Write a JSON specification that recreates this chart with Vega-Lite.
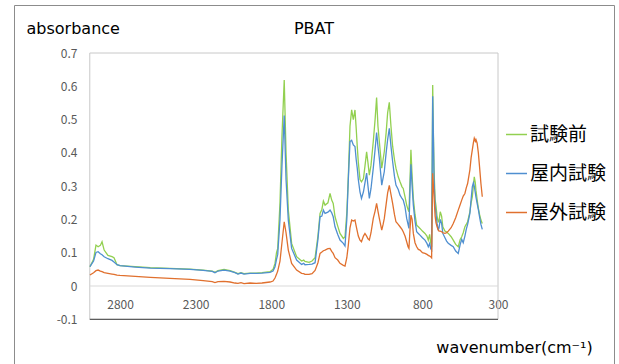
{
  "$schema": "https://vega.github.io/schema/vega-lite/v6.json",
  "width": 600,
  "height": 362,
  "autosize": {"type": "none"},
  "padding": {"left": 14, "top": 5, "right": 5, "bottom": 0},
  "background": "white",
  "title": {"text": "PBAT", "anchor": "middle", "offset": -23.5, "dy": 16.5, "baseline": "middle", "font": "DejaVu Sans", "fontSize": 16, "fontWeight": "normal", "color": "#000000"},
  "config": {"view": {"stroke": "#8c8c8c", "strokeWidth": 1}},
  "layer": [
    {
      "data": {"values": [{}]},
      "mark": {"type": "rect", "fill": null, "stroke": "#c8c8c8", "strokeWidth": 1},
      "encoding": {
        "x": {"datum": 3000, "type": "quantitative"},
        "x2": {"datum": 300},
        "y": {"datum": 0.7, "type": "quantitative"},
        "y2": {"datum": -0.1}
      }
    },
    {
      "data": {"values": [{}]},
      "mark": {"type": "rule", "stroke": "#d9d9d9", "strokeWidth": 1},
      "encoding": {
        "x": {"datum": 3000, "type": "quantitative"},
        "x2": {"datum": 300},
        "y": {"datum": 0, "type": "quantitative"}
      }
    },
    {
      "data": {"values": [{}]},
      "mark": {"type": "rule", "stroke": "#404040", "strokeWidth": 1},
      "encoding": {
        "x": {"datum": 3000, "type": "quantitative"},
        "x2": {"datum": 300},
        "y": {"datum": -0.1, "type": "quantitative"}
      }
    },
    {
      "data": {"values": [
        {"w": 2999, "試験前": 0.058, "屋内試験": 0.058, "屋外試験": 0.033},
        {"w": 2975, "試験前": 0.080, "屋内試験": 0.075, "屋外試験": 0.040},
        {"w": 2959, "試験前": 0.123, "屋内試験": 0.101, "屋外試験": 0.046},
        {"w": 2945, "試験前": 0.118, "屋内試験": 0.103, "屋外試験": 0.048},
        {"w": 2930, "試験前": 0.122, "屋内試験": 0.097, "屋外試験": 0.045},
        {"w": 2919, "試験前": 0.133, "屋内試験": 0.094, "屋外試験": 0.043},
        {"w": 2905, "試験前": 0.108, "屋内試験": 0.088, "屋外試験": 0.040},
        {"w": 2880, "試験前": 0.092, "屋内試験": 0.082, "屋外試験": 0.038},
        {"w": 2853, "試験前": 0.088, "屋内試験": 0.077, "屋外試験": 0.036},
        {"w": 2840, "試験前": 0.085, "屋内試験": 0.072, "屋外試験": 0.035},
        {"w": 2820, "試験前": 0.064, "屋内試験": 0.064, "屋外試験": 0.033},
        {"w": 2800, "試験前": 0.061, "屋内試験": 0.061, "屋外試験": 0.032},
        {"w": 2700, "試験前": 0.058, "屋内試験": 0.057, "屋外試験": 0.029},
        {"w": 2600, "試験前": 0.055, "屋内試験": 0.054, "屋外試験": 0.026},
        {"w": 2470, "試験前": 0.053, "屋内試験": 0.052, "屋外試験": 0.023},
        {"w": 2337, "試験前": 0.051, "屋内試験": 0.050, "屋外試験": 0.020},
        {"w": 2250, "試験前": 0.048, "屋内試験": 0.047, "屋外試験": 0.016},
        {"w": 2190, "試験前": 0.045, "屋内試験": 0.044, "屋外試験": 0.013},
        {"w": 2172, "試験前": 0.041, "屋内試験": 0.040, "屋外試験": 0.010},
        {"w": 2152, "試験前": 0.046, "屋内試験": 0.045, "屋外試験": 0.013},
        {"w": 2112, "試験前": 0.050, "屋内試験": 0.048, "屋外試験": 0.014},
        {"w": 2072, "試験前": 0.046, "屋内試験": 0.045, "屋外試験": 0.012},
        {"w": 2040, "試験前": 0.041, "屋内試験": 0.040, "屋外試験": 0.009},
        {"w": 2020, "試験前": 0.037, "屋内試験": 0.036, "屋外試験": 0.008},
        {"w": 2000, "試験前": 0.040, "屋内試験": 0.039, "屋外試験": 0.010},
        {"w": 1980, "試験前": 0.037, "屋内試験": 0.036, "屋外試験": 0.007},
        {"w": 1940, "試験前": 0.039, "屋内試験": 0.038, "屋外試験": 0.009},
        {"w": 1900, "試験前": 0.039, "屋内試験": 0.038, "屋外試験": 0.008},
        {"w": 1861, "試験前": 0.040, "屋内試験": 0.039, "屋外試験": 0.009},
        {"w": 1808, "試験前": 0.043, "屋内試験": 0.041, "屋外試験": 0.012},
        {"w": 1788, "試験前": 0.050, "屋内試験": 0.045, "屋外試験": 0.015},
        {"w": 1775, "試験前": 0.068, "屋内試験": 0.058, "屋外試験": 0.024},
        {"w": 1765, "試験前": 0.100, "屋内試験": 0.080, "屋外試験": 0.035},
        {"w": 1757, "試験前": 0.113, "屋内試験": 0.095, "屋外試験": 0.045},
        {"w": 1742, "試験前": 0.250, "屋内試験": 0.200, "屋外試験": 0.075},
        {"w": 1729, "試験前": 0.450, "屋内試験": 0.360, "屋外試験": 0.130},
        {"w": 1714, "試験前": 0.619, "屋内試験": 0.512, "屋外試験": 0.193},
        {"w": 1702, "試験前": 0.400, "屋内試験": 0.320, "屋外試験": 0.160},
        {"w": 1687, "試験前": 0.228, "屋内試験": 0.198, "屋外試験": 0.108},
        {"w": 1665, "試験前": 0.128, "屋内試験": 0.113, "屋外試験": 0.068},
        {"w": 1632, "試験前": 0.088, "屋内試験": 0.078, "屋外試験": 0.048},
        {"w": 1599, "試験前": 0.075, "屋内試験": 0.065, "屋外試験": 0.038},
        {"w": 1585, "試験前": 0.078, "屋内試験": 0.068, "屋外試験": 0.037},
        {"w": 1577, "試験前": 0.074, "屋内試験": 0.064, "屋外試験": 0.035},
        {"w": 1550, "試験前": 0.071, "屋内試験": 0.065, "屋外試験": 0.035},
        {"w": 1530, "試験前": 0.075, "屋内試験": 0.066, "屋外試験": 0.037},
        {"w": 1510, "試験前": 0.085, "屋内試験": 0.070, "屋外試験": 0.047},
        {"w": 1491, "試験前": 0.150, "屋内試験": 0.140, "屋外試験": 0.070},
        {"w": 1477, "試験前": 0.218, "屋内試験": 0.208, "屋外試験": 0.098},
        {"w": 1465, "試験前": 0.230, "屋内試験": 0.210, "屋外試験": 0.102},
        {"w": 1455, "試験前": 0.255, "屋内試験": 0.228, "屋外試験": 0.106},
        {"w": 1444, "試験前": 0.243, "屋内試験": 0.218, "屋外試験": 0.108},
        {"w": 1425, "試験前": 0.250, "屋内試験": 0.222, "屋外試験": 0.112},
        {"w": 1411, "試験前": 0.278, "屋内試験": 0.228, "屋外試験": 0.113},
        {"w": 1400, "試験前": 0.258, "屋内試験": 0.220, "屋外試験": 0.104},
        {"w": 1390, "試験前": 0.248, "屋内試験": 0.208, "屋外試験": 0.098},
        {"w": 1378, "試験前": 0.208, "屋内試験": 0.178, "屋外試験": 0.085},
        {"w": 1360, "試験前": 0.180, "屋内試験": 0.155, "屋外試験": 0.078},
        {"w": 1345, "試験前": 0.158, "屋内試験": 0.138, "屋外試験": 0.068},
        {"w": 1323, "試験前": 0.143, "屋内試験": 0.128, "屋外試験": 0.062},
        {"w": 1312, "試験前": 0.148, "屋内試験": 0.120, "屋外試験": 0.060},
        {"w": 1300, "試験前": 0.220, "屋内試験": 0.200, "屋外試験": 0.085},
        {"w": 1290, "試験前": 0.330, "屋内試験": 0.320, "屋外試験": 0.123},
        {"w": 1279, "試験前": 0.480, "屋内試験": 0.434, "屋外試験": 0.175},
        {"w": 1268, "試験前": 0.529, "屋内試験": 0.438, "屋外試験": 0.198},
        {"w": 1257, "試験前": 0.500, "屋内試験": 0.424, "屋外試験": 0.195},
        {"w": 1246, "試験前": 0.529, "屋内試験": 0.419, "屋外試験": 0.198},
        {"w": 1238, "試験前": 0.474, "屋内試験": 0.380, "屋外試験": 0.180},
        {"w": 1231, "試験前": 0.420, "屋内試験": 0.354, "屋外試験": 0.165},
        {"w": 1224, "試験前": 0.373, "屋内試験": 0.320, "屋外試験": 0.150},
        {"w": 1213, "試験前": 0.320, "屋内試験": 0.283, "屋外試験": 0.138},
        {"w": 1203, "試験前": 0.313, "屋内試験": 0.263, "屋外試験": 0.133},
        {"w": 1190, "試験前": 0.323, "屋内試験": 0.283, "屋外試験": 0.150},
        {"w": 1180, "試験前": 0.360, "屋内試験": 0.310, "屋外試験": 0.158},
        {"w": 1169, "試験前": 0.403, "屋内試験": 0.339, "屋外試験": 0.150},
        {"w": 1160, "試験前": 0.370, "屋内試験": 0.300, "屋外試験": 0.142},
        {"w": 1151, "試験前": 0.333, "屋内試験": 0.263, "屋外試験": 0.138},
        {"w": 1140, "試験前": 0.363, "屋内試験": 0.293, "屋外試験": 0.160},
        {"w": 1125, "試験前": 0.434, "屋内試験": 0.354, "屋外試験": 0.203},
        {"w": 1113, "試験前": 0.500, "屋内試験": 0.410, "屋外試験": 0.225},
        {"w": 1103, "試験前": 0.566, "屋内試験": 0.461, "屋外試験": 0.248},
        {"w": 1094, "試験前": 0.480, "屋内試験": 0.420, "屋外試験": 0.225},
        {"w": 1085, "試験前": 0.434, "屋内試験": 0.384, "屋外試験": 0.203},
        {"w": 1069, "試験前": 0.354, "屋内試験": 0.303, "屋外試験": 0.168},
        {"w": 1060, "試験前": 0.380, "屋内試験": 0.325, "屋外試験": 0.185},
        {"w": 1052, "試験前": 0.404, "屋内試験": 0.344, "屋外試験": 0.203},
        {"w": 1040, "試験前": 0.460, "屋内試験": 0.400, "屋外試験": 0.245},
        {"w": 1030, "試験前": 0.520, "屋内試験": 0.440, "屋外試験": 0.280},
        {"w": 1019, "試験前": 0.552, "屋内試験": 0.474, "屋外試験": 0.302},
        {"w": 1008, "試験前": 0.480, "屋内試験": 0.420, "屋外試験": 0.275},
        {"w": 997, "試験前": 0.420, "屋内試験": 0.374, "屋外試験": 0.248},
        {"w": 985, "試験前": 0.380, "屋内試験": 0.330, "屋外試験": 0.215},
        {"w": 975, "試験前": 0.354, "屋内試験": 0.303, "屋外試験": 0.193},
        {"w": 960, "試験前": 0.328, "屋内試験": 0.290, "屋外試験": 0.185},
        {"w": 948, "試験前": 0.313, "屋内試験": 0.273, "屋外試験": 0.178},
        {"w": 935, "試験前": 0.298, "屋内試験": 0.263, "屋外試験": 0.170},
        {"w": 927, "試験前": 0.293, "屋内試験": 0.258, "屋外試験": 0.163},
        {"w": 915, "試験前": 0.268, "屋内試験": 0.238, "屋外試験": 0.150},
        {"w": 904, "試験前": 0.243, "屋内試験": 0.203, "屋外試験": 0.133},
        {"w": 895, "試験前": 0.230, "屋内試験": 0.185, "屋外試験": 0.118},
        {"w": 889, "試験前": 0.223, "屋内試験": 0.173, "屋外試験": 0.113},
        {"w": 882, "試験前": 0.320, "屋内試験": 0.290, "屋外試験": 0.170},
        {"w": 876, "試験前": 0.409, "屋内試験": 0.366, "屋外試験": 0.213},
        {"w": 868, "試験前": 0.330, "屋内試験": 0.300, "屋外試験": 0.200},
        {"w": 860, "試験前": 0.263, "屋内試験": 0.243, "屋外試験": 0.158},
        {"w": 849, "試験前": 0.215, "屋内試験": 0.195, "屋外試験": 0.130},
        {"w": 838, "試験前": 0.183, "屋内試験": 0.163, "屋外試験": 0.118},
        {"w": 827, "試験前": 0.178, "屋内試験": 0.158, "屋外試験": 0.110},
        {"w": 816, "試験前": 0.173, "屋内試験": 0.153, "屋外試験": 0.108},
        {"w": 800, "試験前": 0.165, "屋内試験": 0.145, "屋外試験": 0.100},
        {"w": 783, "試験前": 0.158, "屋内試験": 0.138, "屋外試験": 0.098},
        {"w": 770, "試験前": 0.150, "屋内試験": 0.128, "屋外試験": 0.095},
        {"w": 761, "試験前": 0.138, "屋内試験": 0.118, "屋外試験": 0.092},
        {"w": 752, "試験前": 0.155, "屋内試験": 0.128, "屋外試験": 0.090},
        {"w": 745, "試験前": 0.130, "屋内試験": 0.112, "屋外試験": 0.088},
        {"w": 739, "試験前": 0.118, "屋内試験": 0.108, "屋外試験": 0.085},
        {"w": 732, "試験前": 0.604, "屋内試験": 0.570, "屋外試験": 0.339},
        {"w": 727, "試験前": 0.450, "屋内試験": 0.440, "屋外試験": 0.300},
        {"w": 723, "試験前": 0.349, "屋内試験": 0.318, "屋外試験": 0.268},
        {"w": 716, "試験前": 0.260, "屋内試験": 0.240, "屋外試験": 0.210},
        {"w": 710, "試験前": 0.240, "屋内試験": 0.215, "屋外試験": 0.190},
        {"w": 703, "試験前": 0.208, "屋内試験": 0.188, "屋外試験": 0.178},
        {"w": 695, "試験前": 0.193, "屋内試験": 0.168, "屋外試験": 0.168},
        {"w": 690, "試験前": 0.195, "屋内試験": 0.175, "屋外試験": 0.165},
        {"w": 682, "試験前": 0.223, "屋内試験": 0.200, "屋外試験": 0.165},
        {"w": 673, "試験前": 0.210, "屋内試験": 0.188, "屋外試験": 0.163},
        {"w": 665, "試験前": 0.178, "屋内試験": 0.158, "屋外試験": 0.160},
        {"w": 651, "試験前": 0.165, "屋内試験": 0.145, "屋外試験": 0.158},
        {"w": 640, "試験前": 0.162, "屋内試験": 0.135, "屋外試験": 0.160},
        {"w": 629, "試験前": 0.158, "屋内試験": 0.128, "屋外試験": 0.165},
        {"w": 610, "試験前": 0.148, "屋内試験": 0.122, "屋外試験": 0.175},
        {"w": 596, "試験前": 0.138, "屋内試験": 0.118, "屋外試験": 0.188},
        {"w": 580, "試験前": 0.125, "屋内試験": 0.105, "屋外試験": 0.205},
        {"w": 563, "試験前": 0.118, "屋内試験": 0.098, "屋外試験": 0.228},
        {"w": 550, "試験前": 0.140, "屋内試験": 0.125, "屋外試験": 0.245},
        {"w": 540, "試験前": 0.148, "屋内試験": 0.140, "屋外試験": 0.258},
        {"w": 530, "試験前": 0.160, "屋内試験": 0.130, "屋外試験": 0.270},
        {"w": 519, "試験前": 0.178, "屋内試験": 0.150, "屋外試験": 0.278},
        {"w": 510, "試験前": 0.185, "屋内試験": 0.170, "屋外試験": 0.295},
        {"w": 501, "試験前": 0.193, "屋内試験": 0.185, "屋外試験": 0.308},
        {"w": 486, "試験前": 0.223, "屋内試験": 0.218, "屋外試験": 0.349},
        {"w": 478, "試験前": 0.250, "屋内試験": 0.260, "屋外試験": 0.385},
        {"w": 470, "試験前": 0.268, "屋内試験": 0.298, "屋外試験": 0.409},
        {"w": 463, "試験前": 0.300, "屋内試験": 0.310, "屋外試験": 0.430},
        {"w": 457, "試験前": 0.328, "屋内試験": 0.300, "屋外試験": 0.444},
        {"w": 450, "試験前": 0.310, "屋内試験": 0.280, "屋外試験": 0.435},
        {"w": 446, "試験前": 0.288, "屋内試験": 0.268, "屋外試験": 0.440},
        {"w": 438, "試験前": 0.260, "屋内試験": 0.248, "屋外試験": 0.429},
        {"w": 430, "試験前": 0.233, "屋内試験": 0.230, "屋外試験": 0.400},
        {"w": 422, "試験前": 0.215, "屋内試験": 0.208, "屋外試験": 0.358},
        {"w": 413, "試験前": 0.198, "屋内試験": 0.185, "屋外試験": 0.308},
        {"w": 404, "試験前": 0.188, "屋内試験": 0.170, "屋外試験": 0.268}
      ]},
      "transform": [{"fold": ["試験前", "屋内試験", "屋外試験"], "as": ["series", "a"]}],
      "mark": {"type": "line", "strokeWidth": 1.3, "interpolate": "linear"},
      "encoding": {
        "x": {
          "field": "w", "type": "quantitative",
          "scale": {"domain": [-467.2, 3501.3], "reverse": true, "nice": false, "zero": false},
          "axis": {
            "title": "wavenumber(cm⁻¹)",
            "values": [2800, 2300, 1800, 1300, 800, 300],
            "labelExpr": "'' + datum.value",
            "domain": false, "ticks": false, "tickSize": 0, "grid": false,
            "labelPadding": -63, "labelBaseline": "middle", "labelFlush": false, "labelOverlap": false,
            "labelColor": "#595959", "labelFont": "Noto Sans CJK JP", "labelFontSize": 12,
            "titleX": 500, "titleY": -20, "titleAlign": "center", "titleBaseline": "middle",
            "titleFont": "DejaVu Sans", "titleFontSize": 16, "titleFontWeight": "normal", "titleColor": "#000000"
          }
        },
        "y": {
          "field": "a", "type": "quantitative",
          "scale": {"domain": [-0.2433, 0.8442], "nice": false, "zero": false},
          "axis": {
            "title": "absorbance",
            "values": [-0.1, 0, 0.1, 0.2, 0.3, 0.4, 0.5, 0.6, 0.7],
            "labelExpr": "'' + datum.value",
            "domain": false, "ticks": false, "tickSize": 0, "grid": false,
            "labelPadding": -63, "labelBaseline": "middle", "labelOverlap": false, "labelFlush": false,
            "labelColor": "#595959", "labelFont": "Noto Sans CJK JP", "labelFontSize": 12,
            "titleAngle": 0, "titleAlign": "left", "titleBaseline": "middle", "titleX": 12, "titleY": 23.5,
            "titleFont": "DejaVu Sans", "titleFontSize": 16, "titleFontWeight": "normal", "titleColor": "#000000"
          }
        },
        "color": {
          "field": "series", "type": "nominal",
          "scale": {"domain": ["試験前", "屋内試験", "屋外試験"], "range": ["#92D050", "#4F8FD0", "#E0702E"]},
          "legend": {
            "title": null, "orient": "none", "legendX": 491, "legendY": 118,
            "symbolType": "stroke", "symbolSize": 441, "symbolStrokeWidth": 1.5,
            "labelFont": "Noto Sans CJK JP", "labelFontSize": 19, "labelColor": "#000000", "labelOffset": 2,
            "rowPadding": 17, "padding": 0
          }
        }
      }
    }
  ]
}
